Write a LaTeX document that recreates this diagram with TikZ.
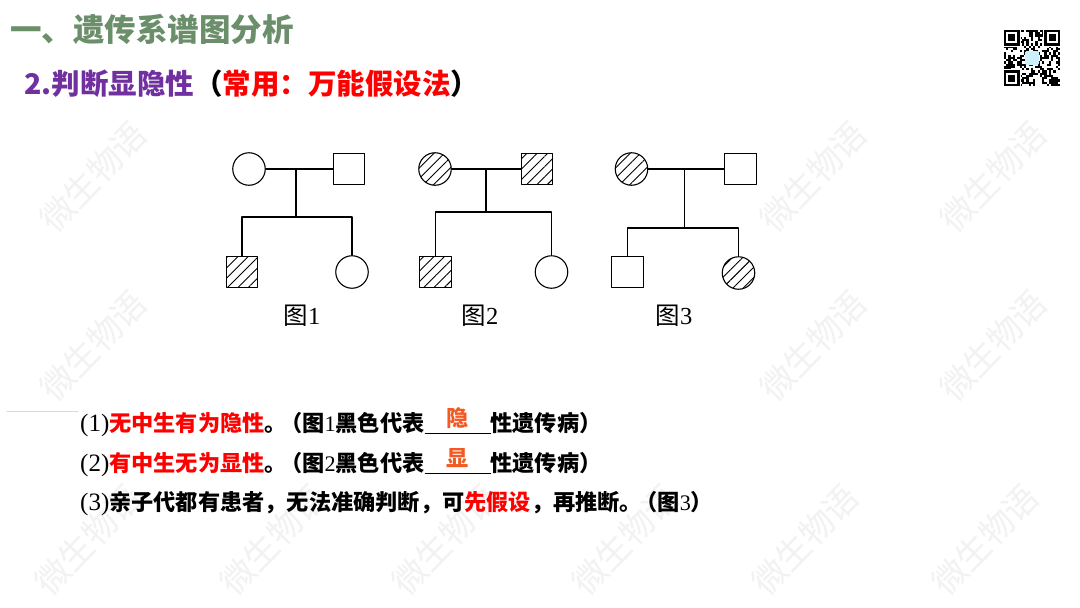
\documentclass[tikz,border=0pt]{standalone}
\usepackage{fontspec}
\setmainfont{Liberation Serif}
\newfontfamily\cjk{Noto Sans CJK SC}
\usetikzlibrary{patterns.meta}
\definecolor{titlegreen}{RGB}{106,143,106}
\definecolor{headpurple}{RGB}{112,48,160}
\definecolor{keyred}{RGB}{255,0,0}
\definecolor{fillorange}{RGB}{243,90,35}
\newcommand\plainnum[1]{{\rmfamily\mdseries #1}}
\newcommand\rowno[1]{{\rmfamily\mdseries\fontsize{25}{26}\selectfont #1}}
\newcommand\fillblank[1]{\rlap{\rule[-2.5pt]{66pt}{0.9pt}}\makebox[66pt]{\raisebox{5pt}{\textcolor{fillorange}{#1}}}}
\newcommand\qrfinder[2]{\fill[white] (#1-1,#2-1) rectangle ++(17.9,17.9);
  \fill (#1,#2) rectangle ++(15.68,15.68);
  \fill[white] (#1+2.24,#2+2.24) rectangle ++(11.2,11.2);
  \fill (#1+4.48,#2+4.48) rectangle ++(6.72,6.72);}
\begin{document}
\begin{tikzpicture}[x=1pt,y=-1pt,line join=round,line cap=round,
	female/.style={circle,draw,line width=1.1pt,minimum size=32.5pt,inner sep=0pt},
	male/.style={rectangle,draw,line width=1.1pt,minimum size=31.5pt,inner sep=0pt},
	ill/.style={pattern={Lines[angle=45,distance=7.3pt,line width=0.9pt]}},
	link/.style={line width=1.1pt},
	figlabel/.style={font=\cjk\fontsize{24.5}{26}\selectfont},
	rowtext/.style={anchor=west,inner sep=0pt,font=\cjk\bfseries\fontsize{22.2}{26}\selectfont},
	wmark/.style={rotate=46,text=black!5,font=\cjk\fontsize{34}{36}\selectfont}]
	\fill[white] (0,0) rectangle (1080,608);
	\useasboundingbox (0,0) rectangle (1080,608);
	\node[wmark] (wm1) at (93,177) {微生物语};
	\node[wmark] (wm2) at (813,177) {微生物语};
	\node[wmark] (wm3) at (993,177) {微生物语};
	\node[wmark] (wm4) at (93,346) {微生物语};
	\node[wmark] (wm5) at (813,346) {微生物语};
	\node[wmark] (wm6) at (993,346) {微生物语};
	\foreach \wx in {88,273,445,625,805,985}{
		\node[wmark] (wm-\wx) at (\wx,540) {微生物语};}
	\draw[black!15,line width=0.6pt] (7,411) -- (78,411);
	\node[anchor=west,inner sep=0pt,text=titlegreen,font=\cjk\bfseries\fontsize{31.5}{34}\selectfont] (title) at (10,29) {一、遗传系谱图分析};
	\node[anchor=west,inner sep=0pt,font=\cjk\bfseries\fontsize{28.5}{30}\selectfont] (sub) at (24,84) {\textcolor{headpurple}{2.判断显隐性}（\textcolor{keyred}{常用：万能假设法}）};
	\pgfmathsetseed{2024}
	\foreach \qi in {0,...,24}{\foreach \qj in {0,...,24}{
		\pgfmathtruncatemacro\qbit{rnd>0.5?1:0}
		\ifnum\qbit=1 \fill (1004+\qi*2.24,30+\qj*2.24) rectangle ++(2.24,2.24);\fi}}
	\qrfinder{1004}{30}
	\qrfinder{1044.32}{30}
	\qrfinder{1004}{70.32}
	\fill[cyan!20,rounded corners=2pt] (1025,51) rectangle (1039,65);
	\node[female] (f1) at (249,169) {};
	\node[male] (m1) at (349,169) {};
	\node[male,ill] (s1) at (242,272) {};
	\node[female] (d1) at (352,272) {};
	\coordinate (c1) at (296,217);
	\draw[link] (f1) -- (m1) (c1 |- f1) -- (c1) (s1.north) |- (c1) -| (d1.north);
	\node[figlabel] (t1) at (302,316) {图\plainnum{1}};
	\node[female,ill] (f2) at (435,169) {};
	\node[male,ill] (m2) at (537,169) {};
	\node[male,ill] (s2) at (435.5,272) {};
	\node[female] (d2) at (551.5,272) {};
	\coordinate (c2) at (486,212);
	\draw[link] (f2) -- (m2) (c2 |- f2) -- (c2) (s2.north) |- (c2) -| (d2.north);
	\node[figlabel] (t2) at (480,316) {图\plainnum{2}};
	\node[female,ill] (f3) at (631.5,169) {};
	\node[male] (m3) at (740.5,169) {};
	\node[male] (s3) at (627.5,272) {};
	\node[female,ill] (d3) at (738.5,273) {};
	\coordinate (c3) at (684.5,228);
	\draw[link] (f3) -- (m3) (c3 |- f3) -- (c3) (s3.north) |- (c3) -| (d3.north);
	\node[figlabel] (t3) at (674,316) {图\plainnum{3}};
	\node[rowtext] (row1) at (80,422) {\rowno{(1)}\textcolor{keyred}{无中生有为隐性}。\kern-0.3em（图\plainnum{1}黑色代表\fillblank{隐}性遗传病）};
	\node[rowtext] (row2) at (80,463) {\rowno{(2)}\textcolor{keyred}{有中生无为显性}。\kern-0.3em（图\plainnum{2}黑色代表\fillblank{显}性遗传病）};
	\node[rowtext] (row3) at (80,504) {\rowno{(3)}亲子代都有患者，无法准确判断，可\textcolor{keyred}{先假设}，再推断。\kern-0.3em（图\plainnum{3}）};
\end{tikzpicture}
\end{document}
